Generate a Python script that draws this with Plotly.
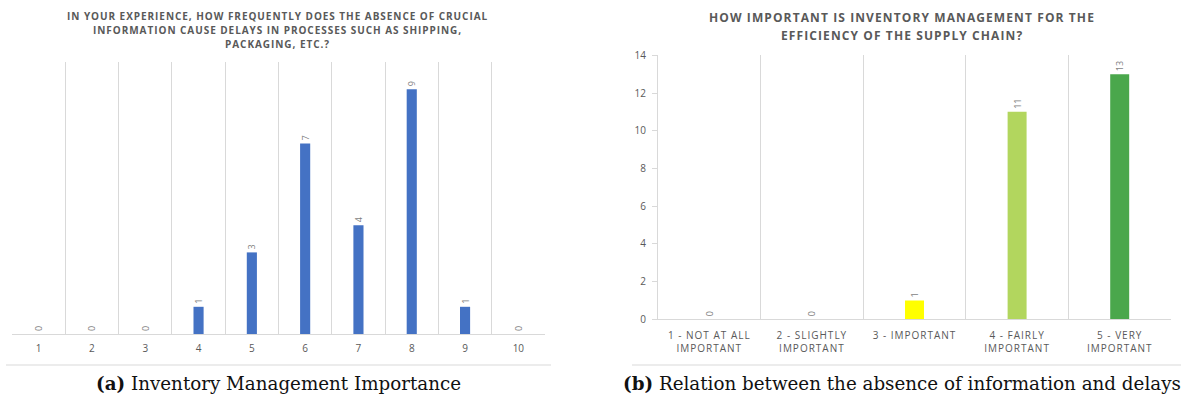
import plotly.graph_objects as go

W, H = 1189, 403

# Left chart data
left_title_lines = [
    "IN YOUR EXPERIENCE, HOW FREQUENTLY DOES THE ABSENCE OF CRUCIAL",
    "INFORMATION CAUSE DELAYS IN PROCESSES SUCH AS SHIPPING,",
    "PACKAGING, ETC.?",
]
left_categories = ["1", "2", "3", "4", "5", "6", "7", "8", "9", "10"]
left_values = [0, 0, 0, 1, 3, 7, 4, 9, 1, 0]

# Right chart data
right_title_lines = [
    "HOW IMPORTANT IS INVENTORY MANAGEMENT FOR THE",
    "EFFICIENCY OF THE SUPPLY CHAIN?",
]
right_categories = [
    "1 - NOT AT ALL|IMPORTANT",
    "2 - SLIGHTLY|IMPORTANT",
    "3 - IMPORTANT| ",
    "4 - FAIRLY|IMPORTANT",
    "5 - VERY|IMPORTANT",
]
right_values = [0, 0, 1, 11, 13]
right_colors = ["#A9A9A9", "#A9A9A9", "#FFFF00", "#B2D65E", "#4AA74C"]

captions = [
    "<b>(a)</b> Inventory Management Importance",
    "<b>(b)</b> Relation between the absence of information and delays",
]

GRID = "#D9D9D9"
TXT = "#595959"
LBL = "#7F7F7F"


def px(x):
    return x / W


def py(y):
    return 1 - y / H


def spaced(s, ls):
    return f'<span style="letter-spacing:{ls}px">{s}</span>'


right_ticktext = ["<br>".join(spaced(p, 1.0) for p in c.split("|")) for c in right_categories]

fig = go.Figure()

fig.add_trace(go.Bar(
    x=left_categories, y=left_values, xaxis="x", yaxis="y",
    marker=dict(color="#4472C4", line=dict(width=0)),
    width=0.19,
    text=[str(v) for v in left_values], textposition="outside",
    textangle=-90, textfont=dict(size=9, color=LBL, family="Open Sans"),
    cliponaxis=False, showlegend=False, hoverinfo="skip",
))

fig.add_trace(go.Bar(
    x=right_categories, y=right_values, xaxis="x2", yaxis="y2",
    marker=dict(color=right_colors, line=dict(width=0)),
    width=0.185,
    text=[str(v) for v in right_values], textposition="outside",
    textangle=-90, textfont=dict(size=9, color=LBL, family="Open Sans"),
    cliponaxis=False, showlegend=False, hoverinfo="skip",
))

fig.update_layout(
    width=W, height=H,
    margin=dict(l=0, r=0, t=0, b=0, autoexpand=False),
    paper_bgcolor="white", plot_bgcolor="white",
    font=dict(family="Open Sans", color=TXT),
    xaxis=dict(
        domain=[px(12), px(545)], anchor="y", type="category",
        tickson="boundaries", showgrid=True, gridcolor=GRID, gridwidth=1,
        showline=True, linecolor=GRID, linewidth=1, ticks="",
        tickfont=dict(size=10, color=TXT), range=[-0.5, 9.5],
        ticklabelstandoff=5, automargin=False,
    ),
    yaxis=dict(
        domain=[py(334), py(62)], anchor="x", range=[0, 10],
        showgrid=False, showline=False, showticklabels=False,
        zeroline=False, ticks="", automargin=False,
    ),
    xaxis2=dict(
        domain=[px(658), px(1171)], anchor="y2", type="category",
        tickson="boundaries", showgrid=True, gridcolor=GRID, gridwidth=1,
        showline=True, linecolor=GRID, linewidth=1, ticks="",
        tickfont=dict(size=10, color=TXT), range=[-0.5, 4.5],
        tickmode="array", tickvals=right_categories, ticktext=right_ticktext,
        ticklabelstandoff=7, automargin=False,
    ),
    yaxis2=dict(
        domain=[py(319.3), py(55.3)], anchor="x2", range=[0, 14], dtick=2,
        showgrid=False, showline=True, linecolor=GRID, linewidth=1,
        ticks="outside", ticklen=5, tickcolor=GRID,
        tickfont=dict(size=10, color=TXT), zeroline=False,
        ticklabelstandoff=4, automargin=False,
    ),
)

annotations = []
for i, line in enumerate(left_title_lines):
    annotations.append(dict(
        text=spaced(line, 0.95), x=px(277), y=py(16 + 14 * i), xref="paper", yref="paper",
        xanchor="center", yanchor="middle", showarrow=False,
        font=dict(size=10, color=TXT, family="Open Sans", weight="bold"),
    ))
for i, line in enumerate(right_title_lines):
    annotations.append(dict(
        text=spaced(line, 1.1), x=px(902), y=py(18 + 18 * i), xref="paper", yref="paper",
        xanchor="center", yanchor="middle", showarrow=False,
        font=dict(size=12, color=TXT, family="Open Sans", weight="bold"),
    ))
for cx, cap in zip([278, 902], captions):
    annotations.append(dict(
        text=cap, x=px(cx), y=py(383), xref="paper", yref="paper",
        xanchor="center", yanchor="middle", showarrow=False,
        font=dict(size=18.3, color="#111111", family="DejaVu Serif"),
    ))
fig.update_layout(annotations=annotations)

fig.add_shape(type="line", xref="paper", yref="paper",
              x0=px(6), x1=px(551), y0=py(365), y1=py(365),
              line=dict(color=GRID, width=1))
fig.add_shape(type="line", xref="paper", yref="paper",
              x0=px(632), x1=px(1181), y0=py(365), y1=py(365),
              line=dict(color=GRID, width=1))

fig.write_html("out.html", config=dict(displayModeBar=False))
